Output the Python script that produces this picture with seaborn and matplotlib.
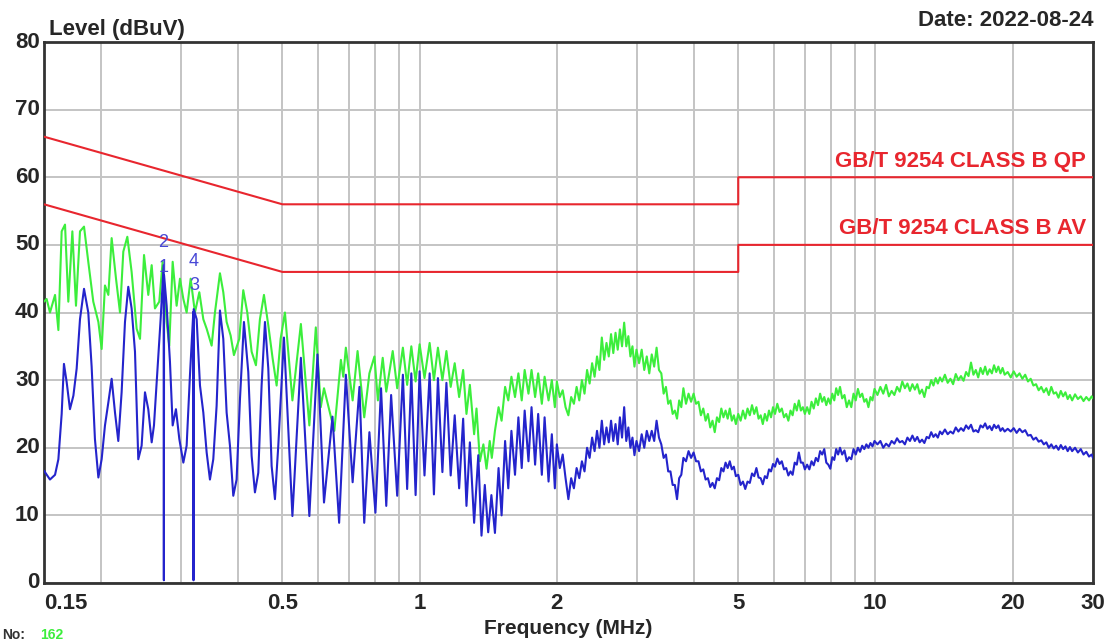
import matplotlib
matplotlib.use("Agg")
import matplotlib.pyplot as plt
import seaborn as sns
import pandas as pd

# ---------------- data ----------------
# Average trace (blue), frequency in MHz, level in dBuV -- 0.15 .. 2 MHz
blue_f_low = [0.150, 0.1546, 0.1586, 0.1613, 0.164, 0.1659, 0.1682, 0.171, 0.174, 0.1769,
              0.1799, 0.1836, 0.1876, 0.1908, 0.194, 0.1974, 0.2007, 0.2041, 0.2076, 0.2111,
              0.2147, 0.2183, 0.222, 0.2258, 0.2296, 0.2335, 0.2375, 0.2415, 0.2456, 0.2498,
              0.254, 0.2584, 0.2614, 0.2658, 0.2704, 0.2745, 0.2748, 0.2751, 0.2787, 0.2834,
              0.2873, 0.2921, 0.2971, 0.3032, 0.3083, 0.3135, 0.3189, 0.3192, 0.3195, 0.3243,
              0.3298, 0.3354, 0.3411, 0.3468, 0.3527, 0.3587, 0.3648, 0.371, 0.3773, 0.3837,
              0.3902, 0.3968, 0.4036, 0.4118, 0.4209, 0.4281, 0.4353, 0.4427, 0.4502, 0.4579,
              0.4657, 0.4736, 0.4816, 0.4898, 0.504,
              0.526, 0.549, 0.573, 0.597, 0.617, 0.644, 0.666, 0.689, 0.713, 0.738,
              0.756, 0.776, 0.800, 0.823, 0.845, 0.866, 0.893, 0.919, 0.939, 0.959,
              0.980, 1.000, 1.025, 1.052, 1.075, 1.097, 1.122, 1.145, 1.170, 1.194,
              1.221, 1.246, 1.267, 1.289, 1.317, 1.345, 1.367, 1.39, 1.414, 1.437,
              1.463, 1.49, 1.513, 1.54, 1.565, 1.59, 1.619, 1.647, 1.675, 1.70,
              1.733, 1.76, 1.792, 1.82, 1.854, 1.88, 1.918, 1.95, 1.98]
blue_db_low = [16.6, 15.3, 16.0, 18.3, 25.0, 32.4, 29.7, 25.7, 27.7, 31.7,
               39.0, 43.5, 40.0, 32.0, 21.3, 15.6, 18.3, 23.3, 26.7, 30.2,
               25.2, 21.0, 28.2, 38.6, 43.8, 40.6, 34.2, 18.3, 20.3, 28.2,
               25.7, 20.8, 23.3, 31.2, 39.1, 47.0, 0.4, 45.5, 41.0, 32.7,
               23.3, 25.7, 21.3, 17.8, 20.3, 30.7, 40.1, 0.4, 40.5, 39.0,
               29.2, 25.2, 19.3, 15.3, 18.3, 26.2, 40.3, 36.1, 25.2, 20.3,
               12.9, 15.3, 27.2, 38.6, 31.2, 18.8, 13.4, 16.3, 29.2, 38.6,
               31.7, 17.3, 12.4, 20.3, 36.3,
               9.9, 33.3, 9.9, 33.8, 11.9, 24.6, 8.9, 30.8, 14.9, 29.0,
               8.9, 22.3, 10.4, 28.8, 11.4, 27.8, 12.9, 30.8, 13.9, 31.0,
               13.0, 31.3, 15.9, 31.0, 13.1, 30.3, 16.4, 29.6, 15.9, 24.8,
               14.0, 24.3, 11.4, 20.8, 8.9, 18.9, 7.0, 14.5, 7.5, 13.0,
               7.4, 17.0, 10.0, 21.0, 14.0, 22.5, 16.0, 24.5, 17.0, 25.5,
               18.0, 26.0, 17.5, 25.0, 16.0, 24.5, 15.0, 22.0, 14.0]
# Average trace (blue) -- 2 .. 30 MHz
blue_f_high = [2.00, 2.03, 2.06, 2.09, 2.12, 2.15, 2.18, 2.21, 2.24, 2.27,
               2.30, 2.33, 2.36, 2.39, 2.42, 2.45, 2.48, 2.51, 2.54, 2.57,
               2.60, 2.63, 2.66, 2.69, 2.72, 2.75, 2.78, 2.81, 2.84, 2.87,
               2.90, 2.93, 2.96, 2.99, 3.03, 3.07, 3.11, 3.15, 3.19, 3.23,
               3.27, 3.31, 3.35, 3.39, 3.43, 3.47, 3.51, 3.55, 3.59, 3.63,
               3.67, 3.71, 3.75, 3.79, 3.84, 3.89, 3.94, 3.99, 4.04, 4.09,
               4.14, 4.19, 4.24, 4.29, 4.34, 4.39, 4.44, 4.49, 4.54, 4.59,
               4.64, 4.69, 4.74, 4.79, 4.84, 4.89, 4.94, 5.00, 5.06, 5.12,
               5.18, 5.24, 5.30, 5.36, 5.42, 5.48, 5.54, 5.60, 5.66, 5.72,
               5.78, 5.84, 5.90, 5.96, 6.02, 6.09, 6.16, 6.23, 6.30, 6.37,
               6.44, 6.51, 6.58, 6.65, 6.72, 6.79, 6.86, 6.93, 7.00, 7.08,
               7.16, 7.24, 7.32, 7.40, 7.48, 7.56, 7.64, 7.72, 7.80, 7.88,
               7.96, 8.04, 8.12, 8.20, 8.28, 8.36, 8.45, 8.55, 8.65, 8.75,
               8.85, 8.95, 9.05, 9.15, 9.25, 9.35, 9.45, 9.55, 9.65, 9.75,
               9.85, 9.95, 10.1, 10.25, 10.4, 10.55, 10.7, 10.85, 11.0, 11.15,
               11.3, 11.45, 11.6, 11.75, 11.9, 12.05, 12.2, 12.35, 12.5, 12.65,
               12.8, 12.95, 13.1, 13.25, 13.4, 13.55, 13.7, 13.85, 14.0, 14.2,
               14.4, 14.6, 14.8, 15.0, 15.2, 15.4, 15.6, 15.8, 16.0, 16.2,
               16.4, 16.6, 16.8, 17.0, 17.2, 17.4, 17.6, 17.8, 18.0, 18.2,
               18.4, 18.6, 18.8, 19.0, 19.2, 19.5, 19.8, 20.1, 20.4, 20.7,
               21.0, 21.3, 21.6, 21.9, 22.2, 22.5, 22.8, 23.1, 23.4, 23.7,
               24.0, 24.3, 24.6, 24.9, 25.2, 25.5, 25.8, 26.1, 26.4, 26.7,
               27.0, 27.4, 27.8, 28.2, 28.6, 29.0, 29.4, 29.8, 30.0]
blue_db_high = [20.5, 17.0, 19.0, 15.5, 12.4, 15.5, 14.0, 17.0, 15.5, 18.0,
                16.5, 20.0, 18.5, 21.5, 19.5, 22.5, 20.0, 24.0, 20.5, 23.0,
                20.8, 24.0, 21.0, 23.5, 20.5, 24.5, 21.5, 26.0, 21.0, 23.0,
                20.0, 21.5, 18.9, 21.0, 19.5, 22.0, 20.0, 22.5, 21.0, 22.5,
                21.0, 24.0, 21.5, 20.5, 18.5, 19.0, 16.5, 16.5, 14.5, 14.5,
                12.4, 15.5, 16.0, 18.5, 18.0, 19.5, 18.5, 19.3, 18.0, 18.0,
                16.5, 16.8, 15.3, 15.5, 14.2, 14.8, 14.0, 15.5, 15.2, 17.0,
                16.5, 17.8, 17.0, 18.0, 16.8, 17.2, 15.8, 16.0, 14.5, 15.0,
                13.9, 15.0, 14.8, 16.2, 15.8, 17.0, 15.6, 15.5, 14.6, 15.8,
                15.5, 16.8, 16.5, 17.6, 17.2, 18.4, 17.6, 18.0, 16.8, 17.0,
                15.9, 16.5, 16.0, 17.8, 17.5, 19.3, 17.8, 17.8, 16.8, 17.5,
                16.8, 18.0, 17.4, 18.5, 18.0, 19.5, 19.0, 19.8, 17.8, 17.5,
                16.9, 18.6, 18.2, 19.8, 19.0, 20.0, 19.0, 19.6, 18.0, 18.6,
                18.3, 19.8, 19.0, 20.0, 19.4, 20.3, 19.8, 20.5, 20.0, 20.7,
                20.2, 21.0, 20.5, 21.0, 20.0, 20.6, 20.2, 21.0, 20.6, 21.4,
                20.8, 21.0, 20.5, 21.5, 21.0, 21.8, 21.0, 21.6, 20.8, 21.2,
                20.7, 21.6, 21.4, 22.3, 21.6, 22.0, 21.5, 22.4, 22.0, 22.7,
                22.0, 22.4, 22.1, 23.0, 22.4, 22.9, 22.5, 23.3, 22.8, 23.4,
                22.4, 22.6, 22.3, 23.3, 23.0, 23.6, 22.8, 23.2, 22.6, 23.4,
                22.9, 23.3, 22.5, 22.9, 22.4, 22.8, 22.4, 22.9, 22.2, 22.8,
                22.3, 22.6, 21.8, 21.9, 21.2, 21.5, 20.9, 21.1, 20.5, 20.8,
                20.0, 20.5, 19.9, 20.3, 19.7, 20.4, 19.8, 20.2, 19.5, 20.1,
                19.5, 20.0, 19.3, 19.8, 19.0, 19.4, 18.7, 19.0, 18.5]

# Peak trace (green) -- 0.15 .. 2 MHz
green_f_low = [0.150, 0.152, 0.1546, 0.1586, 0.1613, 0.164, 0.1668, 0.1696, 0.1731, 0.1763,
               0.1799, 0.1836, 0.1876, 0.1924, 0.1974, 0.2007, 0.2041, 0.2076, 0.2111, 0.2158,
               0.2202, 0.2239, 0.2285, 0.2335, 0.2395, 0.2436, 0.2486, 0.254, 0.2584, 0.2627,
               0.2685, 0.2731, 0.2787, 0.2824, 0.2873, 0.2931, 0.2981, 0.3032, 0.3083, 0.3146,
               0.3215, 0.3287, 0.3354, 0.3411, 0.3498, 0.3557, 0.3648, 0.371, 0.3773, 0.385,
               0.3915, 0.4022, 0.4104, 0.4188, 0.4281, 0.4375, 0.4464, 0.4556, 0.4657, 0.476,
               0.4857, 0.4956, 0.5065,
               0.526, 0.549, 0.573, 0.592, 0.607, 0.617, 0.650, 0.672, 0.680, 0.689,
               0.713, 0.731, 0.756, 0.776, 0.796, 0.810, 0.830, 0.845, 0.873, 0.893,
               0.919, 0.939, 0.959, 0.980, 1.000, 1.025, 1.052, 1.075, 1.097, 1.122,
               1.145, 1.170, 1.194, 1.221, 1.246, 1.267, 1.289, 1.317, 1.333, 1.356,
               1.38, 1.402, 1.425, 1.44, 1.463, 1.49, 1.513, 1.54, 1.565, 1.59,
               1.619, 1.647, 1.675, 1.70, 1.733, 1.76, 1.792, 1.82, 1.854, 1.88,
               1.918, 1.95, 1.98]
green_db_low = [41.6, 42.0, 40.0, 42.6, 37.4, 52.0, 53.0, 41.6, 52.0, 41.0,
                52.0, 52.7, 47.5, 41.6, 38.6, 34.6, 44.0, 42.6, 51.0, 45.0,
                40.0, 49.0, 51.2, 46.0, 37.6, 36.1, 48.5, 42.6, 47.0, 40.6,
                41.6, 47.5, 38.6, 35.1, 47.5, 41.0, 45.0, 42.0, 40.0, 45.0,
                40.0, 43.0, 39.0, 37.6, 35.1, 40.0, 45.8, 43.0, 38.6, 36.6,
                33.7, 36.1, 43.3, 40.0, 34.2, 32.2, 39.0, 42.6, 38.1, 33.2,
                29.2, 36.1, 40.0,
                27.0, 38.3, 23.3, 37.8, 26.0, 28.8, 22.5, 33.0, 30.5, 34.8,
                27.0, 34.3, 24.5, 31.0, 33.5, 27.0, 33.3, 28.3, 34.3, 28.8,
                34.8, 29.3, 35.0, 29.8, 35.3, 30.3, 35.5, 30.0, 34.8, 30.0,
                34.3, 29.0, 32.5, 27.5, 31.5, 25.0, 29.3, 22.0, 25.8, 18.0,
                20.5, 16.9, 21.0, 18.5, 22.5, 26.0, 24.0, 29.0, 27.0, 30.5,
                27.5, 31.0, 27.0, 31.5, 28.0, 31.5, 27.5, 31.0, 26.5, 30.5,
                27.0, 30.0, 26.0]
# Peak trace (green) -- 2 .. 30 MHz
green_f_high = [2.00, 2.03, 2.06, 2.09, 2.12, 2.15, 2.18, 2.21, 2.24, 2.27,
                2.30, 2.33, 2.36, 2.39, 2.42, 2.45, 2.48, 2.51, 2.54, 2.57,
                2.60, 2.63, 2.66, 2.69, 2.72, 2.75, 2.78, 2.81, 2.84, 2.87,
                2.90, 2.93, 2.96, 2.99, 3.03, 3.07, 3.11, 3.15, 3.19, 3.23,
                3.27, 3.31, 3.35, 3.39, 3.43, 3.47, 3.51, 3.55, 3.59, 3.63,
                3.67, 3.71, 3.75, 3.79, 3.84, 3.89, 3.94, 3.99, 4.04, 4.09,
                4.14, 4.19, 4.24, 4.29, 4.34, 4.39, 4.44, 4.49, 4.54, 4.59,
                4.64, 4.69, 4.74, 4.79, 4.84, 4.89, 4.94, 5.00, 5.06, 5.12,
                5.18, 5.24, 5.30, 5.36, 5.42, 5.48, 5.54, 5.60, 5.66, 5.72,
                5.78, 5.84, 5.90, 5.96, 6.02, 6.09, 6.16, 6.23, 6.30, 6.37,
                6.44, 6.51, 6.58, 6.65, 6.72, 6.79, 6.86, 6.93, 7.00, 7.08,
                7.16, 7.24, 7.32, 7.40, 7.48, 7.56, 7.64, 7.72, 7.80, 7.88,
                7.96, 8.04, 8.12, 8.20, 8.28, 8.36, 8.45, 8.55, 8.65, 8.75,
                8.85, 8.95, 9.05, 9.15, 9.25, 9.35, 9.45, 9.55, 9.65, 9.75,
                9.85, 9.95, 10.1, 10.25, 10.4, 10.55, 10.7, 10.85, 11.0, 11.15,
                11.3, 11.45, 11.6, 11.75, 11.9, 12.05, 12.2, 12.35, 12.5, 12.65,
                12.8, 12.95, 13.1, 13.25, 13.4, 13.55, 13.7, 13.85, 14.0, 14.2,
                14.4, 14.6, 14.8, 15.0, 15.2, 15.4, 15.6, 15.8, 16.0, 16.2,
                16.4, 16.6, 16.8, 17.0, 17.2, 17.4, 17.6, 17.8, 18.0, 18.2,
                18.4, 18.6, 18.8, 19.0, 19.2, 19.5, 19.8, 20.1, 20.4, 20.7,
                21.0, 21.3, 21.6, 21.9, 22.2, 22.5, 22.8, 23.1, 23.4, 23.7,
                24.0, 24.3, 24.6, 24.9, 25.2, 25.5, 25.8, 26.1, 26.4, 26.7,
                27.0, 27.4, 27.8, 28.2, 28.6, 29.0, 29.4, 29.8, 30.0]
green_db_high = [29.8, 27.5, 28.5, 26.0, 24.8, 27.5, 26.5, 29.0, 27.0, 30.0,
                 28.0, 31.5, 29.5, 32.5, 30.5, 33.5, 31.5, 36.3, 33.0, 35.5,
                 33.5, 36.8, 34.0, 37.0, 34.5, 37.5, 35.0, 38.5, 35.0, 36.5,
                 33.5, 35.0, 32.0, 34.5, 32.5, 34.5, 31.5, 33.5, 31.0, 33.8,
                 32.0, 34.8, 31.5, 31.0, 28.0, 29.0, 26.5, 27.0, 25.0, 25.5,
                 24.3, 27.0, 26.0, 28.8, 26.5, 28.0, 26.8, 28.0, 26.5, 26.8,
                 24.8, 25.8, 24.0, 25.0, 23.0, 24.0, 22.3, 24.5, 23.8, 25.8,
                 24.5, 25.5, 24.3, 25.8, 24.0, 24.8, 23.5, 25.0, 24.0, 25.5,
                 24.3, 25.8, 24.8, 26.3, 25.0, 26.0, 24.3, 24.8, 23.5, 25.0,
                 24.0, 25.5, 24.5, 26.0, 25.0, 26.5, 25.3, 25.8, 24.5, 25.0,
                 24.0, 25.5, 24.8, 26.5, 25.5, 27.0, 25.5, 26.0, 25.0, 26.0,
                 25.0, 26.8, 25.8, 27.3, 26.3, 28.0, 26.8, 27.5, 26.3, 27.3,
                 26.5, 28.0, 27.0, 28.8, 27.8, 29.0, 27.3, 27.8, 26.0, 27.0,
                 26.0, 28.0, 27.0, 28.7, 27.5, 28.0, 26.8, 27.2, 26.0, 27.5,
                 27.0, 28.7, 27.8, 29.0, 28.0, 29.3, 27.6, 28.4, 27.8, 29.0,
                 28.3, 29.8, 28.8, 29.5, 28.4, 29.4, 28.6, 29.4, 28.0, 28.6,
                 27.5, 29.0, 28.8, 30.0, 29.2, 30.3, 29.5, 30.4, 29.8, 30.8,
                 29.6, 30.2, 29.4, 30.9, 30.0, 30.6, 29.9, 31.2, 30.6, 32.6,
                 30.8, 31.5, 30.4, 31.8, 30.9, 32.0, 30.8, 31.6, 31.0, 32.2,
                 31.2, 32.0, 31.0, 31.8, 30.8, 31.2, 30.4, 31.3, 30.5, 31.0,
                 30.2, 30.8, 29.8, 30.2, 29.2, 29.4, 28.5, 29.0, 28.2, 28.8,
                 27.8, 29.0, 28.0, 28.2, 27.4, 28.4, 27.6, 28.2, 27.2, 27.8,
                 27.0, 27.9, 27.2, 27.6, 26.9, 27.5, 27.0, 27.6, 27.3]

# Limit lines
qp_f = [0.15, 0.5, 5.0, 5.0, 30.0]
qp_db = [66.0, 56.0, 56.0, 60.0, 60.0]
av_f = [0.15, 0.5, 5.0, 5.0, 30.0]
av_db = [56.0, 46.0, 46.0, 50.0, 50.0]
qp_label = "GB/T 9254 CLASS B QP"
av_label = "GB/T 9254 CLASS B AV"

# Markers
marker_labels = ["1", "2", "3", "4"]
marker_f = [0.274, 0.274, 0.320, 0.320]
marker_db = [46.6, 50.4, 44.0, 47.6]

# Axes ticks
x_grid = [0.2, 0.3, 0.4, 0.5, 0.6, 0.7, 0.8, 0.9, 1, 2, 3, 4, 5, 6, 7, 8, 9, 10, 20, 30]
x_labeled = {0.15: "0.15", 0.5: "0.5", 1: "1", 2: "2", 5: "5", 10: "10", 20: "20", 30: "30"}
y_ticks = [0, 10, 20, 30, 40, 50, 60, 70, 80]

# ---------------- style ----------------
sns.set_style("white")
plt.rcParams["font.family"] = ["Liberation Sans", "DejaVu Sans"]
plt.rcParams["font.weight"] = "bold"

GREEN = "#3cee3c"
BLUE = "#2424cc"
RED = "#e8262e"
DARK = "#262626"

fig = plt.figure(figsize=(11.14, 6.43), dpi=100)
ax = fig.add_axes([44 / 1114, 60 / 643, 1049 / 1114, 541 / 643])

df_g = pd.DataFrame({"f": green_f_low + green_f_high, "db": green_db_low + green_db_high})
df_b = pd.DataFrame({"f": blue_f_low + blue_f_high, "db": blue_db_low + blue_db_high})
df_qp = pd.DataFrame({"f": qp_f, "db": qp_db})
df_av = pd.DataFrame({"f": av_f, "db": av_db})

sns.lineplot(data=df_g, x="f", y="db", ax=ax, color=GREEN, lw=1.5, sort=False,
             estimator=None, zorder=3)
sns.lineplot(data=df_b, x="f", y="db", ax=ax, color=BLUE, lw=1.5, sort=False,
             estimator=None, zorder=4)
sns.lineplot(data=df_qp, x="f", y="db", ax=ax, color=RED, lw=1.5, sort=False,
             estimator=None, zorder=5)
sns.lineplot(data=df_av, x="f", y="db", ax=ax, color=RED, lw=1.5, sort=False,
             estimator=None, zorder=5)

ax.set_xscale("log")
ax.set_xlim(0.15, 30)
ax.set_ylim(0, 80)

ticks = [0.15] + x_grid
ax.set_xticks(ticks)
ax.set_xticklabels([x_labeled.get(t, "") for t in ticks])
ax.xaxis.set_minor_locator(matplotlib.ticker.NullLocator())
ax.set_yticks(y_ticks)
ax.set_yticklabels([str(v) for v in y_ticks])
ax.tick_params(axis="both", length=0, labelsize=16, labelcolor=DARK)
ax.tick_params(axis="x", pad=7)
ax.tick_params(axis="y", pad=3)
for lbl in ax.get_xticklabels():
    lbl.set_fontweight("bold")
    if lbl.get_text() == "0.15":
        lbl.set_horizontalalignment("left")
for lbl in ax.get_yticklabels():
    lbl.set_fontweight("bold")
    lbl.set_verticalalignment("center")

ax.grid(True, color="#c4c4c4", lw=1.4, zorder=0)
ax.set_axisbelow(True)
for s in ax.spines.values():
    s.set_color("#333333")
    s.set_linewidth(2.0)

ax.set_xlabel("Frequency (MHz)", fontsize=15, fontweight="bold", color=DARK, labelpad=4)
ax.set_ylabel("")

ax.text(0.005, 1.004, "Level (dBuV)", transform=ax.transAxes, ha="left", va="bottom",
        fontsize=16, fontweight="bold", color=DARK)
ax.text(1.0, 1.02, "Date: 2022-08-24", transform=ax.transAxes, ha="right", va="bottom",
        fontsize=16, fontweight="bold", color=DARK)

ax.text(29, qp_db[-1] + 0.8, qp_label, ha="right", va="bottom", fontsize=16,
        fontweight="bold", color=RED, zorder=6)
ax.text(29, av_db[-1] + 0.8, av_label, ha="right", va="bottom", fontsize=16,
        fontweight="bold", color=RED, zorder=6)

for lab, f, d in zip(marker_labels, marker_f, marker_db):
    ax.text(f, d, lab, ha="center", va="center", fontsize=13, color="#4848d6", zorder=7,
            fontweight="normal")

fig.text(2 / 1114, 1 / 643, "No:", ha="left", va="bottom", fontsize=10,
         color="#333333", fontweight="bold")
fig.text(40 / 1114, 1 / 643, "162", ha="left", va="bottom", fontsize=10,
         color=GREEN, fontweight="bold")

fig.savefig("out.png", dpi=100)
